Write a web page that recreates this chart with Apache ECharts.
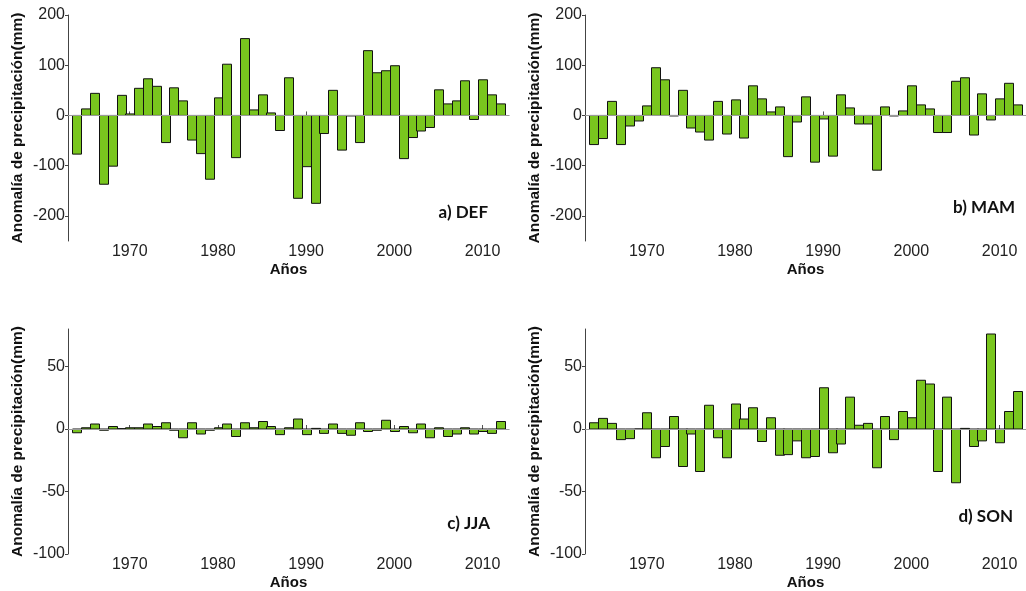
<!DOCTYPE html>
<html>
<head>
<meta charset="utf-8">
<script src="https://cdn.jsdelivr.net/npm/echarts@6/dist/echarts.min.js"></script>
<style>
  html, body { margin: 0; padding: 0; background: #fff; }
  #chart { width: 1026px; height: 591px; }
</style>
</head>
<body>
<div id="chart"></div>
<script>
// Seasonal precipitation anomalies (mm), 1964-2012
const years = [
  1964, 1965, 1966, 1967, 1968, 1969, 1970, 1971, 1972, 1973,
  1974, 1975, 1976, 1977, 1978, 1979, 1980, 1981, 1982, 1983,
  1984, 1985, 1986, 1987, 1988, 1989, 1990, 1991, 1992, 1993,
  1994, 1995, 1996, 1997, 1998, 1999, 2000, 2001, 2002, 2003,
  2004, 2005, 2006, 2007, 2008, 2009, 2010, 2011, 2012
];

const def = [
  -77, 13, 44, -137, -101, 40, 3, 54, 73, 58,
  -54, 55, 29, -49, -76, -127, 35, 102, -84, 153,
  11, 41, 5, -30, 75, -165, -102, -175, -36, 50,
  -69, -1, -54, 129, 85, 89, 99, -86, -44, -31,
  -24, 51, 23, 29, 69, -8, 71, 41, 23
];

const mam = [
  -58, -46, 28, -58, -21, -11, 19, 95, 71, -1,
  50, -25, -33, -49, 28, -37, 31, -45, 59, 33,
  7, 17, -82, -13, 37, -93, -7, -81, 41, 15,
  -17, -17, -109, 17, -1, 9, 59, 21, 13, -34,
  -34, 68, 75, -39, 43, -9, 33, 64, 21
];

const jja = [
  -3, 1, 4, -1, 2, 0.3, 1, 1, 4, 2,
  5, -1, -7, 5, -4, -1, 1, 4, -6, 5,
  1, 6, 2, -4.5, 1, 8, -4.5, 0.5, -3.5, 4,
  -3.5, -5, 5, -2, -1, 7, -2, 2, -3, 4,
  -7, 1, -6, -4, 1, -4, -2, -3.5, 6
];

const son = [
  5, 8.5, 4.5, -8.5, -7.7, 0, 13, -23, -14, 10,
  -30, -4, -34, 19, -7, -23, 20, 8, 17, -10,
  9, -21, -20.5, -9.5, -23, -22, 33, -19, -12, 25.5,
  3, 4.5, -31, 10, -8.5, 14, 9, 39, 36, -34,
  25.5, -43, 0.5, -14, -9.5, 76, -11, 14, 30
];

const yearTicks = [1970, 1980, 1990, 2000, 2010];
const ticksTop = [-200, -100, 0, 100, 200];
const ticksBottom = [-100, -50, 0, 50];

const panelLabels = ['a) DEF', 'b) MAM', 'c) JJA', 'd) SON'];
const xName = 'Años';
const yName = 'Anomalía de precipitación(mm)';

const BAR = '#79c61e';
const FONT = '"Liberation Sans", Arial, sans-serif';
const PLOT_W = 441;

const grids = [
  { left: 68,  top: 15,  width: PLOT_W, height: 226 },
  { left: 585, top: 15,  width: PLOT_W, height: 226 },
  { left: 68,  top: 329, width: PLOT_W, height: 227 },
  { left: 585, top: 329, width: PLOT_W, height: 227 }
];

const panels = [
  { data: def, min: -250, max: 200, ticks: ticksTop },
  { data: mam, min: -250, max: 200, ticks: ticksTop },
  { data: jja, min: -100, max: 80,  ticks: ticksBottom },
  { data: son, min: -100, max: 80,  ticks: ticksBottom }
];

const plain = v => String(v);

const xAxes = panels.map((p, i) => ({
  type: 'value',
  gridIndex: i,
  min: 1963,
  max: 2013,
  name: xName,
  nameLocation: 'middle',
  nameGap: 21,
  nameTextStyle: { fontFamily: FONT, fontWeight: 'bold', fontSize: 15, color: '#111' },
  axisLine: { show: true, lineStyle: { color: '#7a7a7a', width: 1 } },
  axisTick: { show: true, inside: true, length: 4, customValues: yearTicks, lineStyle: { color: '#555' } },
  axisLabel: { customValues: yearTicks, formatter: plain, fontFamily: FONT, fontSize: 16, color: '#222', margin: 3 },
  splitLine: { show: false }
}));

const yAxes = panels.map((p, i) => ({
  type: 'value',
  gridIndex: i,
  min: p.min,
  max: p.max,
  name: yName,
  nameLocation: 'middle',
  nameGap: 42,
  nameTextStyle: { fontFamily: FONT, fontWeight: 'bold', fontSize: 15.5, color: '#111' },
  axisLine: { show: true, lineStyle: { color: '#444', width: 1 } },
  axisTick: { show: true, length: 3, customValues: p.ticks, lineStyle: { color: '#444' } },
  axisLabel: { customValues: p.ticks, formatter: plain, fontFamily: FONT, fontSize: 16, color: '#222', margin: 3 },
  splitLine: { show: false }
}));

// Each year is drawn as a rectangle spanning one full year on the x axis,
// from zero to its anomaly value.
function renderYearBar(params, api) {
  const year = api.value(0);
  const v = api.value(1);
  const p0 = api.coord([year - 0.5, 0]);
  const p1 = api.coord([year + 0.5, v]);
  const x = Math.round(Math.min(p0[0], p1[0])) + 0.5;
  const w = Math.round(Math.abs(p1[0] - p0[0]));
  const yTop = Math.min(p0[1], p1[1]);
  const h = Math.abs(p1[1] - p0[1]);
  return {
    type: 'rect',
    shape: { x: x, y: yTop, width: w, height: h },
    style: { fill: BAR, stroke: '#111', lineWidth: 1 }
  };
}

const series = panels.map((p, i) => ({
  type: 'custom',
  xAxisIndex: i,
  yAxisIndex: i,
  data: years.map((y, k) => [y, p.data[k]]),
  renderItem: renderYearBar,
  encode: { x: 0, y: 1 },
  silent: true,
  animation: false,
  markLine: {
    silent: true,
    symbol: ['none', 'none'],
    label: { show: false },
    lineStyle: { color: '#9a9a9a', width: 1, type: 'solid' },
    data: [{ yAxis: 0 }]
  }
}));

const labelPos = [
  { right: 488, y: 213 },
  { right: 1015, y: 208 },
  { right: 490, y: 524 },
  { right: 1013, y: 517 }
];

const graphic = panelLabels.map((t, i) => ({
  type: 'text',
  x: labelPos[i].right,
  y: labelPos[i].y,
  style: {
    text: t,
    fontFamily: 'Lato, "Open Sans", sans-serif',
    fontWeight: 'bold',
    fontSize: 17,
    fill: '#111',
    textAlign: 'right',
    textVerticalAlign: 'middle'
  }
}));

const chart = echarts.init(document.getElementById('chart'), null, { renderer: 'canvas' });
chart.setOption({
  animation: false,
  backgroundColor: '#fff',
  grid: grids,
  xAxis: xAxes,
  yAxis: yAxes,
  series: series,
  graphic: graphic
});
</script>
</body>
</html>
